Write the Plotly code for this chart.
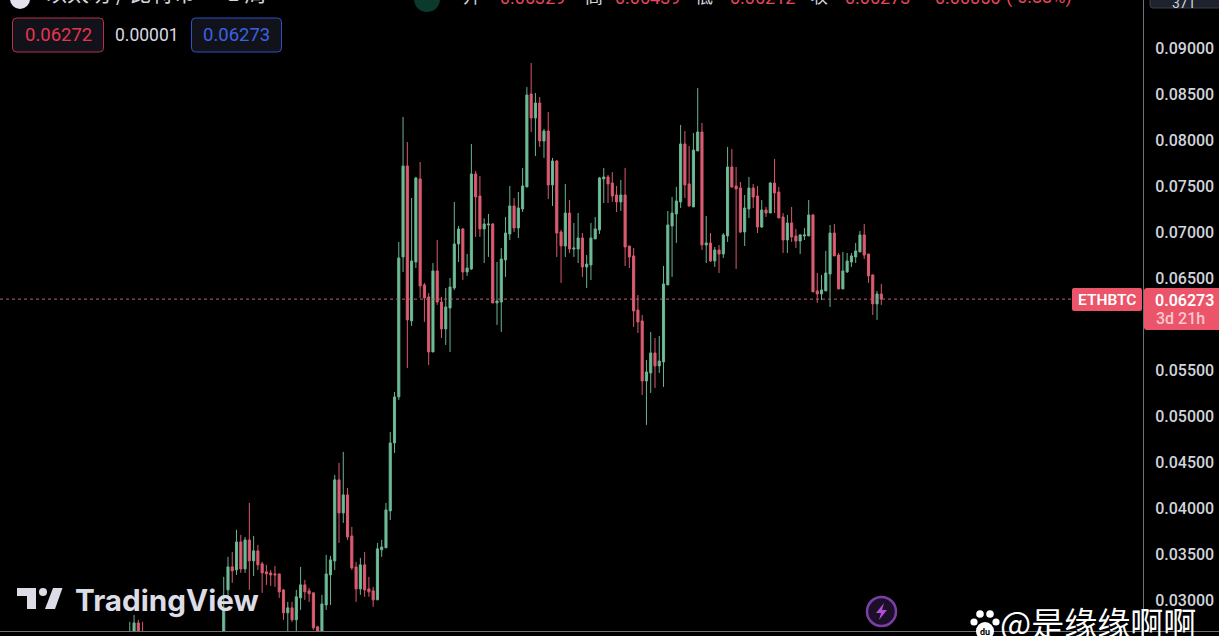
import plotly.graph_objects as go

# ETH/BTC weekly candles, values in units of 0.00001 BTC
# Far-left cluster (mostly below the visible range)
left_open = [2600, 2620, 2757, 2640]
left_high = [2768, 2844, 2790, 2768]
left_low = [2500, 2600, 2600, 2550]
left_close = [2650, 2757, 2640, 2600]

opens = [2600,3115,3365,3332,3636,3343,3658,3430,3539,3398,3311,3300,3289,3289,3115,2866,2920,2790,3029,3170,3105,3083,2714,2650,2952,3278,3430,4310,3951,4147,3701,3365,3126,3387,3126,3105,3007,3550,3572,3973,4711,5211,
6731,7719,6036,6676,7578,6427,6297,5699,6579,6242,5949,6177,6394,6872,7035,6568,6600,7632,7393,7035,7078,7089,6231,6242,6698,6980,7285,7045,7252,7491,8500,8240,8403,7990,8099,7513,7773,7002,6850,7208,6817,6817,6937,6622,6644,6926,7024,7578,7600,7534,7404,7328,7404,6850,6742,6155,6036,5384,5471,5688,5547,5591,6427,7067,7198,7328,7958,7524,7274,7882,8088,6861,6883,6687,6807,6763,6959,7708,7502,7480,7002,7252,7480,7393,7056,7241,7208,7534,7436,7165,6915,7100,6959,6904,6959,6959,7187,6362,6329,6362,6546,6991,6752,6383,6568,6676,6731,6785,6970,6763,6536,6221,6329]
highs = [3257,3474,3528,3767,3712,3690,4060,3701,3604,3419,3387,3332,3376,3289,3126,2985,2985,3115,3365,3224,3137,3083,2725,3061,3495,3484,4364,4494,4614,4223,3799,3419,3463,3528,3257,3148,3625,3658,4060,4830,5265,6894,
8251,7979,7371,7600,7762,6449,6340,6665,6915,6297,6394,6503,7328,7067,7046,6763,7958,7665,7610,7150,7198,7100,6676,6828,7165,7502,7371,7437,7697,8576,8837,8511,8468,8121,8305,7806,7784,7024,7524,7350,7100,7208,6991,6752,7100,7165,7600,7697,7621,7654,7502,7567,7697,6850,6828,6318,6101,5612,5916,5851,5873,6633,7230,7382,7491,8164,8099,7936,8077,8565,8186,7176,6991,6839,6861,6991,7925,7903,7708,7545,7404,7600,7524,7502,7350,7274,7545,7795,7491,7208,7187,7274,7035,6980,7045,7350,7198,6557,6536,6796,7078,7089,6774,6785,6774,6774,6883,7013,7089,6763,6536,6362,6438]
lows = [2550,3040,3192,3278,3300,3300,3115,3267,3332,3083,3170,3159,3148,3029,2790,2660,2768,2660,2898,3007,2985,2681,2640,2620,2898,2952,3332,3625,3843,3658,3332,2985,3061,3040,3040,2931,3007,3474,3572,3875,4603,5178,
6568,5525,5982,6611,6286,6025,5558,5699,6210,5851,5775,5699,6372,6676,6481,6525,6590,6948,6948,6665,6731,6231,5992,5917,6514,6915,7002,6937,7219,7491,8088,7827,7925,7806,7360,7285,6731,6449,6731,6774,6731,6665,6514,6394,6481,6926,6980,7317,7317,7328,7219,7230,6633,6611,5971,5905,5232,4907,5254,5308,5471,5319,6427,6514,6883,7263,7371,7274,7274,7882,6807,6665,6676,6622,6557,6720,6894,7480,6600,6991,6850,7154,7263,6991,7046,7165,7208,7208,7154,6774,6774,6894,6828,6763,6915,6959,6351,6232,6264,6362,6188,6742,6383,6383,6557,6622,6665,6785,6709,6449,6101,6047,6210]
closes = [2898,3365,3322,3636,3343,3658,3430,3539,3387,3300,3289,3278,3278,3094,2866,2920,2790,3040,3170,3094,3072,2703,2650,2963,3289,3441,4310,3951,4147,3690,3354,3126,3387,3115,3094,3007,3561,3582,3984,4711,5211,6720,
7719,6047,6687,7589,6416,6286,5699,6579,6242,5949,6188,6405,6872,7035,6568,6611,7632,7382,7035,7089,7089,6231,6253,6709,6991,7285,7045,7263,7502,8490,8240,8403,7990,8099,7513,7773,6991,6850,7208,6817,6828,6937,6622,6654,6937,7035,7589,7600,7524,7393,7328,7404,6839,6731,6144,6025,5384,5482,5688,5547,5601,6438,7078,7208,7339,7958,7513,7285,7892,8088,6861,6883,6687,6807,6763,6970,7708,7491,7469,7002,7263,7480,7382,7056,7241,7208,7534,7425,7154,6915,7100,6948,6904,6970,6970,7187,6351,6329,6372,6557,6991,6742,6383,6579,6687,6742,6796,6970,6752,6525,6221,6329,6273]
hidden_bars = 18
price_unit = 1e-5

# 0.06000 sits behind the last-price label in the reference, so it is not listed
y_tick_values = [0.03, 0.035, 0.04, 0.045, 0.05, 0.055, 0.065, 0.07, 0.075, 0.08, 0.085, 0.09]
last_price = 0.06273
header_pairs = [("开", "0.06329"), ("高", "0.06439"), ("低", "0.06212"), ("收", "0.06273")]

W, H = 1219, 636
PLOT_R, PLOT_B = 1143, 631
def px(x): return x / PLOT_R
def py(y): return 1 - y / PLOT_B

# scale: 0.09 at pixel 48, 0.03 at pixel 600.5; bar spacing 4.27 px, last bar at 881.3
y_per_px = 0.06 / (600.5 - 48)
y_top = 0.09 + 48 * y_per_px
y_bot = 0.09 - (PLOT_B - 48) * y_per_px

n_left = len(left_open)
left_x = list(range(n_left))
main_x = [n_left + hidden_bars + i for i in range(len(opens))]
xs = left_x + main_x
last_x = main_x[-1]
spacing = 4.27
x_range = [last_x - 881.3 / spacing, last_x + (PLOT_R - 881.3) / spacing]

def scaled(a): return [v * price_unit for v in a]

fig = go.Figure(go.Candlestick(
    x=xs,
    open=scaled(left_open + opens), high=scaled(left_high + highs),
    low=scaled(left_low + lows), close=scaled(left_close + closes),
    increasing=dict(line=dict(color="#69b491", width=1), fillcolor="#6fc09a"),
    decreasing=dict(line=dict(color="#d95a6e", width=1), fillcolor="#e05c72"),
    whiskerwidth=0, hoverinfo="skip", showlegend=False,
))

def rrect(x0, y0, x1, y1, r):
    return (f"M {px(x0+r)} {py(y0)} L {px(x1-r)} {py(y0)} Q {px(x1)} {py(y0)} {px(x1)} {py(y0+r)} "
            f"L {px(x1)} {py(y1-r)} Q {px(x1)} {py(y1)} {px(x1-r)} {py(y1)} L {px(x0+r)} {py(y1)} "
            f"Q {px(x0)} {py(y1)} {px(x0)} {py(y1-r)} L {px(x0)} {py(y0+r)} Q {px(x0)} {py(y0)} {px(x0+r)} {py(y0)} Z")

def poly(points):
    return "M " + " L ".join(f"{px(a)} {py(b)}" for a, b in points) + " Z"

def pshape(path, fill, line=None, lw=0):
    return dict(type="path", xref="paper", yref="paper", path=path, fillcolor=fill,
                line=dict(color=line or fill, width=lw), layer="above")

def circle(cx, cy, r, fill, line=None, lw=0):
    return dict(type="circle", xref="paper", yref="paper", x0=px(cx-r), x1=px(cx+r), y0=py(cy+r), y1=py(cy-r),
                fillcolor=fill, line=dict(color=line or fill, width=lw), layer="above")

def seg(x0, y0, x1, y1, color, width=1, dash="solid"):
    return dict(type="line", xref="paper", yref="paper", x0=px(x0), x1=px(x1), y0=py(y0), y1=py(y1),
                line=dict(color=color, width=width, dash=dash), layer="above")

shapes = [
    dict(type="line", xref="paper", yref="y", x0=0, x1=px(1072), y0=last_price, y1=last_price,
         line=dict(color="#b5656f", width=1, dash="dot"), layer="above"),
    seg(1143.5, 0, 1143.5, H, "#6f7178"),
    seg(0, 631.5, W, 631.5, "#6f7178"),
    # top-left price boxes
    pshape(rrect(12.5, 18, 103.5, 52, 4), "#12121a", "#b5324a", 1),
    pshape(rrect(191.5, 18, 281.5, 52, 4), "#12121a", "#2f50c4", 1),
    # header icons
    circle(20, -1, 10, "#e4e4ee"),
    circle(427, -1, 13, "#0b3a2c"),
    pshape(rrect(1150, -10, 1225, 8, 3), "#1e222d", "#3a3e4a", 1),
    # last price labels
    pshape(rrect(1072, 288, 1142, 311, 2), "#ec5569"),
    pshape(rrect(1144, 288, 1225, 330, 3), "#ec5569"),
    # TradingView mark
    pshape(poly([(17, 588), (36, 588), (36, 609), (27, 609), (27, 596), (17, 596)]), "#dcdce6"),
    circle(43, 592, 4, "#dcdce6"),
    pshape(poly([(53, 588), (62.5, 588), (55, 609), (45, 609)]), "#dcdce6"),
    # lightning badge
    circle(881.5, 611.5, 14.5, "#1b1028", "#7a3fa6", 2.5),
    pshape(poly([(884, 603), (876, 613), (881, 613), (879, 620), (887, 610), (882, 610)]), "#b04fd8"),
    # paw watermark
    circle(974, 622, 3.6, "#ffffff"), circle(980, 614, 3.8, "#ffffff"),
    circle(990, 614, 3.8, "#ffffff"), circle(996, 622, 3.6, "#ffffff"),
    circle(985, 631, 9, "#ffffff"),
]

def label(x, y, text, size, color, anchor="center", weight=400, family="Roboto, sans-serif", yanchor="middle"):
    return dict(xref="paper", yref="paper", x=px(x), y=py(y), text=text, showarrow=False,
                xanchor=anchor, yanchor=yanchor, font=dict(size=size, color=color, family=family, weight=weight),
                borderpad=0, borderwidth=0, align="center")

cjk = "Noto Sans CJK SC, sans-serif"
annotations = [
    label(58, 35, "0.06272", 18.5, "#e8354f"),
    label(146.5, 35, "0.00001", 17.5, "#d8d9e0"),
    label(236.5, 35, "0.06273", 18.5, "#3a62e6"),
    label(45, 7, "以太坊 / 比特币 · 1 周", 22, "#d4d5dc", "left", family=cjk, yanchor="bottom"),
    label(1106.5, 300, "ETHBTC", 15.5, "#ffffff", weight=600),
    label(1184, 300, "0.06273", 16, "#ffffff", weight=600),
    label(1180, 319, "3d 21h", 16, "#f8c9cf", weight=500),
    label(1184, 3, "371", 14, "#d1d4dc"),
    label(74.5, 600, "TradingView", 29.7, "#dcdce6", "left", weight=700, family="Inter, sans-serif"),
    label(985, 632, "du", 9, "#000000", weight=700),
    label(1000, 622, "@是缘缘啊啊", 33, "#ffffff", "left", family=cjk),
]
# clipped header row of open / high / low / close values
header_x = [(463, 500), (585, 615), (695, 730), (810, 845)]
for (name, val), (xa, xb) in zip(header_pairs, header_x):
    annotations.append(label(xa, 8, name, 18, "#d4d5dc", "left", family=cjk, yanchor="bottom"))
    annotations.append(label(xb, 8, val, 18, "#e8475c", "left", yanchor="bottom"))
annotations.append(label(930, 8, "-0.00056", 18, "#e8475c", "left", yanchor="bottom"))
annotations.append(label(1006, 8, "(-0.88%)", 18, "#e8475c", "left", yanchor="bottom"))

fig.update_layout(
    width=W, height=H, autosize=False,
    margin=dict(l=0, r=W - PLOT_R, t=0, b=H - PLOT_B, pad=0),
    paper_bgcolor="#000000", plot_bgcolor="#000000",
    showlegend=False, dragmode=False, hovermode=False,
    shapes=shapes, annotations=annotations,
    font=dict(family="Roboto, sans-serif"),
    xaxis=dict(range=x_range, showgrid=False, zeroline=False, showline=False, showticklabels=False,
               ticks="", rangeslider=dict(visible=False), fixedrange=True),
    yaxis=dict(range=[y_bot, y_top], side="right", showgrid=False, zeroline=False, showline=False,
               tickmode="array", tickvals=y_tick_values, ticktext=[f"{v:.5f}" for v in y_tick_values],
               ticks="outside", ticklen=8, tickcolor="rgba(0,0,0,0)",
               tickfont=dict(size=16, color="#d1d4dc", family="Roboto, sans-serif", weight=500),
               fixedrange=True),
)
fig.write_html("out.html", config=dict(displayModeBar=False),
               post_script="document.body.style.margin='0';document.body.style.background='#000';document.body.style.overflow='hidden';")
